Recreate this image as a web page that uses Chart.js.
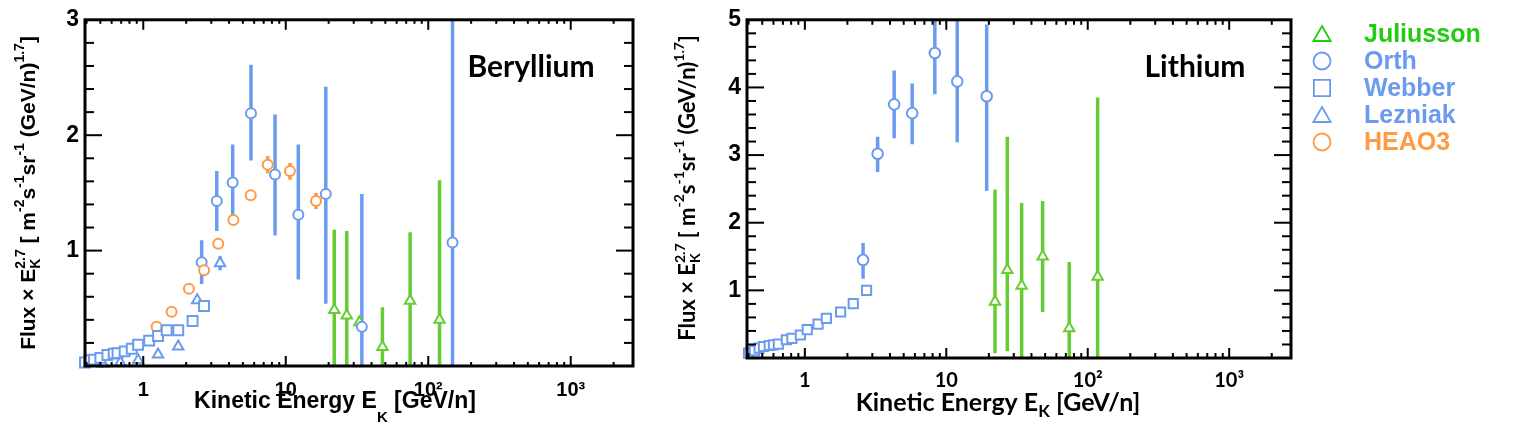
<!DOCTYPE html>
<html>
<head>
<meta charset="utf-8">
<script src="https://cdn.jsdelivr.net/npm/chart.js@4.4.1/dist/chart.umd.min.js"></script>
<style>
html, body { margin: 0; padding: 0; background: #fff; width: 1517px; height: 438px; overflow: hidden; }
canvas { position: absolute; top: 0; }
#be { left: 0; }
#li { left: 650px; }
</style>
</head>
<body>
<canvas id="be" width="650" height="438"></canvas>
<canvas id="li" width="867" height="438"></canvas>
<script>
// tick labels
const xTickValues = [1, 10, 100, 1000];
const beYTicks = [1, 2, 3];
const liYTicks = [1, 2, 3, 4, 5];

// ---- Beryllium ----
const beWebberE = [0.39, 0.42, 0.45, 0.50, 0.56, 0.62, 0.66, 0.74, 0.83, 0.92, 1.10, 1.27, 1.46, 1.76, 2.22, 2.67];
const beWebberF = [0.03, 0.05, 0.055, 0.07, 0.095, 0.107, 0.112, 0.127, 0.15, 0.184, 0.22, 0.26, 0.31, 0.31, 0.39, 0.52];

const beLezniakE = [0.52, 0.69, 0.92, 1.27, 1.76, 2.39, 3.46];
const beLezniakF = [0.02, 0.03, 0.05, 0.10, 0.17, 0.57, 0.89];
const beLezniakLo = [null, null, null, null, null, null, 0.83];
const beLezniakHi = [null, null, null, null, null, null, 0.95];

const beHeaoE = [1.24, 1.58, 2.09, 2.67, 3.36, 4.29, 5.68, 7.47, 10.7, 16.3];
const beHeaoF = [0.34, 0.47, 0.67, 0.83, 1.06, 1.265, 1.48, 1.745, 1.69, 1.43];
const beHeaoLo = [null, null, null, null, null, null, null, 1.67, 1.615, 1.36];
const beHeaoHi = [null, null, null, null, null, null, null, 1.82, 1.76, 1.50];

const beOrthE = [2.57, 3.28, 4.24, 5.70, 8.41, 12.25, 19.1, 34.2, 148];
const beOrthF = [0.90, 1.43, 1.59, 2.19, 1.66, 1.31, 1.49, 0.34, 1.07];
const beOrthLo = [0.71, 1.17, 1.26, 1.78, 1.13, 0.75, 0.54, 0, 0];
const beOrthHi = [1.09, 1.69, 1.92, 2.61, 2.18, 1.92, 2.42, 1.49, 3.1];

const beJuliussonE = [21.9, 26.8, 32.9, 47.7, 74.6, 120];
const beJuliussonF = [0.486, 0.437, 0.38, 0.164, 0.566, 0.40];
const beJuliussonLo = [0, 0, 0.33, 0, 0, 0];
const beJuliussonHi = [1.18, 1.17, 0.43, 0.51, 1.16, 1.61];

// ---- Lithium ----
const liWebberE = [0.40, 0.44, 0.475, 0.51, 0.56, 0.60, 0.65, 0.74, 0.81, 0.93, 1.04, 1.24, 1.42, 1.79, 2.20, 2.73];
const liWebberF = [0.073, 0.11, 0.146, 0.17, 0.185, 0.195, 0.205, 0.27, 0.29, 0.34, 0.42, 0.50, 0.585, 0.68, 0.805, 1.0];

const liOrthE = [2.58, 3.27, 4.28, 5.74, 8.30, 11.95, 19.3];
const liOrthF = [1.45, 3.02, 3.75, 3.62, 4.51, 4.09, 3.87];
const liOrthLo = [1.17, 2.75, 3.25, 3.16, 3.90, 3.19, 2.47];
const liOrthHi = [1.70, 3.27, 4.25, 4.06, 5.0, 5.1, 4.93];

const liJuliussonE = [22.1, 27.0, 34.1, 48.0, 74.0, 117.5];
const liJuliussonF = [0.83, 1.30, 1.07, 1.50, 0.44, 1.20];
const liJuliussonLo = [0.07, 0.10, 0, 0.68, 0, 0];
const liJuliussonHi = [2.49, 3.27, 2.29, 2.32, 1.42, 3.85];

const legendNames = ['Juliusson', 'Orth', 'Webber', 'Lezniak', 'HEAO3'];

const BLUE = '#6b9bef', GREEN = '#66cc33', GREEN_TXT = '#22cc11', ORANGE = '#ff9a44';
const HELV = '"Liberation Sans", Arial, sans-serif';
const CALI = 'Lato, "Open Sans", sans-serif';

function series(label, E, F, style, color, radius, lo, hi) {
    return {
        label: label,
        data: E.map((x, i) => ({ x: x, y: F[i] })),
        pointStyle: style,
        pointRadius: radius,
        pointBorderWidth: 2,
        pointBorderColor: color,
        pointBackgroundColor: '#fff',
        borderColor: color,
        backgroundColor: '#fff',
        errLo: lo,
        errHi: hi,
        clip: false
    };
}

// error bars drawn under the markers
const errorBars = {
    id: 'errorBars',
    beforeDatasetsDraw(chart) {
        const { ctx, chartArea: a, scales: { x, y } } = chart;
        ctx.save();
        ctx.beginPath();
        ctx.rect(a.left, a.top, a.width, a.height);
        ctx.clip();
        chart.data.datasets.forEach(ds => {
            if (!ds.errLo) return;
            ctx.strokeStyle = ds.borderColor;
            ctx.lineWidth = 3.5;
            ds.data.forEach((p, i) => {
                if (ds.errLo[i] == null) return;
                const px = x.getPixelForValue(p.x);
                ctx.beginPath();
                ctx.moveTo(px, y.getPixelForValue(ds.errLo[i]));
                ctx.lineTo(px, y.getPixelForValue(ds.errHi[i]));
                ctx.stroke();
            });
        });
        ctx.restore();
    }
};

// inward ticks and the frame
const frame = {
    id: 'frame',
    afterDraw(chart, args, o) {
        const { ctx, chartArea: a, scales: { x, y } } = chart;
        ctx.save();
        ctx.strokeStyle = '#000';
        ctx.lineWidth = 2;
        const line = (x1, y1, x2, y2) => { ctx.beginPath(); ctx.moveTo(x1, y1); ctx.lineTo(x2, y2); ctx.stroke(); };
        for (let e = -1; e <= 4; e++) {
            for (let m = 1; m <= 9; m++) {
                const v = m * Math.pow(10, e);
                if (v <= x.min || v >= x.max) continue;
                const px = x.getPixelForValue(v);
                const L = m === 1 ? o.xMajor : o.xMinor;
                line(px, a.bottom, px, a.bottom - L);
                line(px, a.top, px, a.top + L);
            }
        }
        for (let k = 1; k < y.max * 5; k++) {
            const py = y.getPixelForValue(k / 5);
            const L = k % 5 === 0 ? o.yMajor : o.yMinor;
            line(a.left, py, a.left + L, py);
            line(a.right, py, a.right - L, py);
        }
        ctx.lineWidth = 3;
        ctx.strokeRect(a.left, a.top, a.width, a.height);
        ctx.restore();
    }
};

// text with super/subscripts
function drawRich(ctx, parts, x, y, rot) {
    ctx.save();
    ctx.translate(x, y);
    if (rot) ctx.rotate(rot);
    ctx.textAlign = 'left';
    ctx.textBaseline = 'alphabetic';
    const widths = parts.map(p => {
        ctx.font = p.f;
        if (p.t != null) return ctx.measureText(p.t).width;
        return Math.max(ctx.measureText(p.sup).width, ctx.measureText(p.sub).width);
    });
    let cx = -widths.reduce((s, w) => s + w, 0) / 2;
    parts.forEach((p, i) => {
        ctx.font = p.f;
        ctx.fillStyle = p.c || '#000';
        if (p.t != null) {
            ctx.fillText(p.t, cx, p.dy || 0);
        } else {
            ctx.fillText(p.sup, cx, p.up);
            ctx.fillText(p.sub, cx, p.down);
        }
        cx += widths[i];
    });
    ctx.restore();
}

const titles = {
    id: 'titles',
    afterDraw(chart, args, o) {
        const ctx = chart.ctx;
        ctx.save();
        ctx.font = 'bold 30px ' + CALI;
        ctx.fillStyle = '#000';
        ctx.textAlign = 'center';
        ctx.textBaseline = 'middle';
        ctx.fillText(o.name, o.nameX, o.nameY);
        ctx.restore();
        drawRich(ctx, o.xTitle, o.xTitleX, o.xTitleY, 0);
        drawRich(ctx, o.yTitle, o.yTitleX, o.yTitleY, -Math.PI / 2);
    }
};

const legendBox = {
    id: 'legendBox',
    afterDraw(chart, args, o) {
        if (!o.show) return;
        const ctx = chart.ctx;
        const rows = [
            { style: 'triangle', color: GREEN_TXT, r: 10 },
            { style: 'circle', color: BLUE, r: 8.5 },
            { style: 'rect', color: BLUE, r: 11.5 },
            { style: 'triangle', color: BLUE, r: 10 },
            { style: 'circle', color: ORANGE, r: 8.5 }
        ];
        ctx.save();
        rows.forEach((row, i) => {
            const yy = o.y + i * 27;
            ctx.strokeStyle = row.color;
            ctx.fillStyle = '#fff';
            ctx.lineWidth = 1.8;
            Chart.helpers.drawPoint(ctx, { pointStyle: row.style, radius: row.r, borderWidth: 1.8, rotation: 0 }, o.x, yy + (row.style === 'triangle' ? 2 : 0));
            ctx.fillStyle = row.color;
            ctx.font = 'bold 25px ' + HELV;
            ctx.textAlign = 'left';
            ctx.textBaseline = 'middle';
            ctx.fillText(legendNames[i], o.x + 42, yy + 1);
        });
        ctx.restore();
    }
};

function yTitleParts(base, font) {
    const big = 'bold ' + base + 'px ' + font;
    const small = 'bold ' + Math.round(base * 0.65) + 'px ' + font;
    return [
        { t: 'Flux \u00d7 E', f: big, dy: 7 },
        { sup: '2.7', sub: 'K', f: small, up: -3, down: 12 },
        { t: ' [ m', f: big, dy: 7 },
        { t: '-2', f: small, dy: -4 },
        { t: 's', f: big, dy: 7 },
        { t: '-1', f: small, dy: -4 },
        { t: 'sr', f: big, dy: 7 },
        { t: '-1', f: small, dy: -4 },
        { t: ' (GeV/n)', f: big, dy: 7 },
        { t: '1.7', f: small, dy: -4 },
        { t: ']', f: big, dy: 7 }
    ];
}

const supDigits = { 2: '\u00b2', 3: '\u00b3' };

function makePanel(id, o) {
    return new Chart(document.getElementById(id), {
        type: 'scatter',
        data: { datasets: o.datasets },
        options: {
            responsive: false,
            animation: false,
            events: [],
            layout: { padding: { top: 17, right: o.padRight, left: 0, bottom: 0 } },
            plugins: {
                legend: { display: false },
                tooltip: { enabled: false },
                frame: o.ticks,
                titles: o.titles,
                legendBox: o.legend
            },
            scales: {
                x: {
                    type: 'logarithmic',
                    min: 0.39,
                    max: 2735,
                    grid: { display: false, drawTicks: false },
                    border: { display: false },
                    afterBuildTicks: s => { s.ticks = xTickValues.map(v => ({ value: v })); },
                    afterFit: s => { s.height = o.xHeight; },
                    ticks: {
                        padding: o.xPad,
                        color: '#000',
                        font: o.xFont,
                        callback: v => {
                            const e = Math.round(Math.log10(v));
                            return e <= 1 ? String(v) : '10' + supDigits[e];
                        }
                    }
                },
                y: {
                    min: 0,
                    max: o.yMax,
                    grid: { display: false, drawTicks: false },
                    border: { display: false },
                    afterBuildTicks: s => { s.ticks = o.yTicks.map(v => ({ value: v })); },
                    afterFit: s => { s.width = o.yWidth; },
                    ticks: {
                        padding: 6,
                        color: '#000',
                        font: { family: HELV, size: 23, weight: 'bold' }
                    }
                }
            }
        },
        plugins: [errorBars, frame, titles, legendBox]
    });
}

const beChart = makePanel('be', {
    datasets: [
        series('Webber', beWebberE, beWebberF, 'rect', BLUE, 7, null, null),
        series('Lezniak', beLezniakE, beLezniakF, 'triangle', BLUE, 6, beLezniakLo, beLezniakHi),
        series('HEAO3', beHeaoE, beHeaoF, 'circle', ORANGE, 5, beHeaoLo, beHeaoHi),
        series('Orth', beOrthE, beOrthF, 'circle', BLUE, 5, beOrthLo, beOrthHi),
        series('Juliusson', beJuliussonE, beJuliussonF, 'triangle', GREEN, 6, beJuliussonLo, beJuliussonHi)
    ],
    padRight: 17,
    xHeight: 72,
    yWidth: 85,
    yMax: 3,
    yTicks: beYTicks,
    xPad: 12,
    xFont: { family: HELV, size: 20, weight: 'bold' },
    ticks: { xMajor: 10, xMinor: 4, yMajor: 17, yMinor: 9 },
    titles: {
        name: 'Beryllium', nameX: 531, nameY: 67,
        xTitle: [
            { t: 'Kinetic Energy E', f: 'bold 23px ' + HELV },
            { t: 'K', f: 'bold 15px ' + HELV, dy: 14 },
            { t: ' [GeV/n]', f: 'bold 23px ' + HELV }
        ],
        xTitleX: 335, xTitleY: 408,
        yTitle: yTitleParts(21, HELV),
        yTitleX: 28, yTitleY: 193
    },
    legend: { show: false }
});

const liChart = makePanel('li', {
    datasets: [
        series('Webber', liWebberE, liWebberF, 'rect', BLUE, 6.5, null, null),
        series('Orth', liOrthE, liOrthF, 'circle', BLUE, 5.3, liOrthLo, liOrthHi),
        series('Juliusson', liJuliussonE, liJuliussonF, 'triangle', GREEN, 6, liJuliussonLo, liJuliussonHi)
    ],
    padRight: 226,
    xHeight: 80,
    yWidth: 97,
    yMax: 5,
    yTicks: liYTicks,
    xPad: 11,
    xFont: { family: CALI, size: 20, weight: 'bold' },
    ticks: { xMajor: 10, xMinor: 5, yMajor: 17, yMinor: 9 },
    titles: {
        name: 'Lithium', nameX: 545, nameY: 67,
        xTitle: [
            { t: 'Kinetic Energy E', f: 'bold 25px ' + CALI },
            { t: 'K', f: 'bold 17px ' + CALI, dy: 6 },
            { t: ' [GeV/n]', f: 'bold 25px ' + CALI }
        ],
        xTitleX: 348, xTitleY: 411,
        yTitle: yTitleParts(22, CALI),
        yTitleX: 38, yTitleY: 188
    },
    legend: { show: true, x: 672, y: 34 }
});
</script>
</body>
</html>
